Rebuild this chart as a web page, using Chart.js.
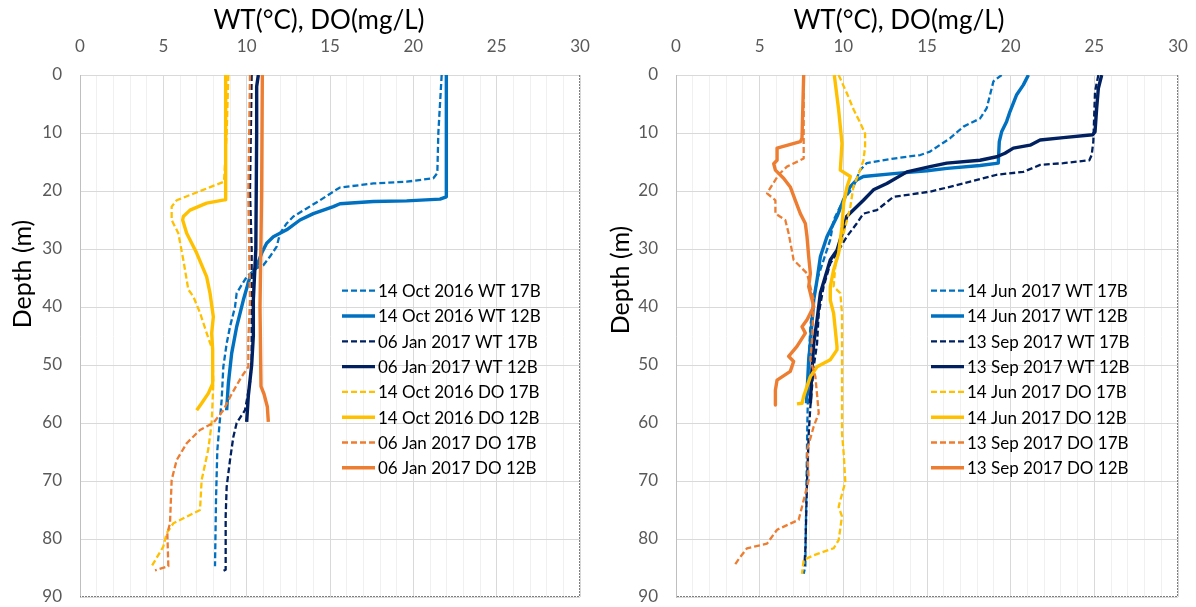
<!DOCTYPE html>
<html>
<head>
<meta charset="utf-8">
<title>WT / DO profiles</title>
<script src="https://cdn.jsdelivr.net/npm/chart.js@4.4.1/dist/chart.umd.min.js"></script>
<style>
  body { margin: 0; background: #fff; }
  .wrap { position: absolute; top: 0; width: 598px; height: 607px; }
</style>
</head>
<body>
<div class="wrap" style="left:0"><canvas id="chartA" width="598" height="607"></canvas></div>
<div class="wrap" style="left:598px"><canvas id="chartB" width="598" height="607"></canvas></div>
<script>
// ---- profile data: depth (m) and value (WT in degC, DO in mg/L) ----

// panel A : 14 Oct 2016 / 06 Jan 2017
var oct16Wt17bD = [0, 5, 10, 16.9, 17.8, 18.4, 18.7, 19.4, 20.1, 21.6, 23.0, 24.4, 25.6, 27.3, 29.6, 31.3, 32.8, 33.3, 34.8, 37.6, 40.0, 43.4, 46.3, 50.3, 56.0, 60.6, 64.7, 73.3, 84.7];
var oct16Wt17bV = [21.7, 21.6, 21.5, 21.44, 21.2, 19.6, 17.6, 15.6, 15.2, 14.4, 13.6, 12.8, 12.4, 12.0, 11.8, 11.4, 11.0, 10.6, 10.0, 9.4, 9.3, 9.0, 8.8, 8.6, 8.5, 8.36, 8.24, 8.16, 8.1];

var oct16Wt12bD = [0, 21.0, 21.4, 21.7, 21.8, 22.2, 22.7, 23.9, 25.0, 26.7, 27.9, 29.0, 30.7, 33.0, 34.8, 38.8, 43.4, 48.0, 53.2, 57.8];
var oct16Wt12bV = [21.98, 21.98, 21.6, 19.6, 17.6, 15.6, 15.2, 14.0, 13.2, 12.4, 11.6, 11.2, 10.9, 10.6, 10.2, 9.8, 9.4, 9.1, 8.9, 8.8];

var jan17Wt17bD = [0, 10, 20, 30, 40, 50, 53.0, 57.8, 60.0, 62.4, 66.4, 71.0, 76.1, 85.3, 85.5];
var jan17Wt17bV = [10.3, 10.25, 10.2, 10.3, 10.3, 10.3, 10.2, 9.9, 9.4, 9.2, 9.0, 8.8, 8.74, 8.74, 8.6];

var jan17Wt12bD = [0, 2, 10, 30, 38.8, 45, 50, 55.3, 59.8];
var jan17Wt12bV = [10.7, 10.6, 10.6, 10.55, 10.4, 10.4, 10.3, 10.1, 10.0];

var oct16Do17bD = [0, 10, 18.4, 21.6, 22.7, 25.0, 27.3, 31.9, 37.0, 38.2, 41.0, 44.5, 47.4, 53.2, 60.0, 64.5, 69.8, 75.0, 77.3, 79.0, 81.3, 84.7];
var oct16Do17bV = [8.9, 8.8, 8.64, 5.8, 5.5, 5.5, 5.9, 6.2, 6.5, 6.8, 7.2, 7.6, 7.95, 8.0, 7.9, 7.7, 7.3, 7.2, 5.6, 5.2, 5.0, 4.3];

var oct16Do12bD = [0, 21.5, 22.1, 23.3, 24.4, 25.0, 27.3, 30.7, 34.8, 37.6, 41.7, 44.5, 47.4, 53.2, 54.9, 56.6, 57.8];
var oct16Do12bV = [8.74, 8.74, 7.6, 6.6, 6.2, 6.16, 6.4, 7.0, 7.6, 7.8, 8.0, 7.9, 7.96, 7.96, 7.7, 7.3, 7.0];

var jan17Do17bD = [0, 20.4, 32, 38.8, 45.7, 50.3, 52.0, 55.0, 57.8, 60.0, 61.2, 63.5, 66.4, 69.8, 77.3, 79.0, 84.7, 85.4];
var jan17Do17bV = [10.2, 10.1, 10.16, 10.2, 10.1, 10.1, 9.7, 9.1, 8.6, 8.0, 7.2, 6.4, 5.8, 5.5, 5.4, 5.24, 5.3, 4.5];

var jan17Do12bD = [0, 20, 40, 53.7, 55.0, 57.2, 59.8];
var jan17Do12bV = [10.94, 10.9, 10.8, 10.86, 11.04, 11.24, 11.3];

// panel B : 14 Jun 2017 / 13 Sep 2017
var jun17Wt17bD = [0, 1.1, 3.4, 5.7, 7.5, 8.9, 10.9, 13.2, 13.8, 14.4, 15.2, 16.4, 19.3, 21.6, 25.0, 28.4, 31.9, 35.3, 38.8, 43.4, 49.0, 60, 70, 80, 84.7, 86.0];
var jun17Wt17bV = [19.46, 18.97, 18.77, 18.57, 18.17, 17.18, 16.38, 15.18, 14.6, 13.0, 11.4, 11.0, 10.6, 10.0, 9.42, 9.22, 8.82, 8.43, 8.23, 8.03, 7.93, 7.85, 7.8, 7.75, 7.73, 7.63];

var jun17Wt12bD = [0, 1.7, 3.4, 6.3, 8.0, 9.8, 11.5, 15.2, 15.6, 16.1, 16.5, 17.0, 17.5, 18.1, 19.3, 21.6, 24.4, 27.9, 31.3, 35.3, 38.8, 46.3, 49.1, 56.6];
var jun17Wt12bV = [21.06, 20.76, 20.36, 19.96, 19.76, 19.46, 19.32, 19.26, 18.17, 16.2, 15.0, 13.0, 11.2, 10.8, 10.4, 10.0, 9.62, 9.02, 8.63, 8.43, 8.23, 8.03, 7.93, 7.8];

var sep17Wt17bD = [0, 2.9, 11.5, 13.8, 14.7, 15.2, 15.5, 16.7, 17.2, 18.7, 20.1, 21.0, 23.3, 23.9, 25.6, 27.9, 30.7, 32.5, 36.5, 41.1, 46.3, 50.3, 57.2, 61.8, 70.2, 81.9, 84.7];
var sep17Wt17bV = [25.24, 25.04, 24.94, 24.84, 24.7, 23.15, 21.76, 20.76, 19.17, 17.18, 15.2, 13.0, 12.0, 11.2, 10.8, 10.2, 9.62, 9.22, 8.82, 8.53, 8.43, 8.23, 8.03, 7.93, 7.83, 7.73, 7.67];

var sep17Wt12bD = [0, 2.3, 5.7, 9.8, 10.3, 10.8, 11.2, 12.1, 12.6, 13.5, 14.1, 14.7, 15.2, 15.8, 16.7, 18.7, 19.8, 21.6, 22.7, 24.4, 26.7, 30.2, 31.9, 34.8, 37.6, 42.2, 46.3, 52, 56.6];
var sep17Wt12bV = [25.44, 25.24, 25.14, 25.04, 24.9, 23.15, 21.76, 21.16, 20.16, 19.66, 19.17, 18.17, 16.18, 15.18, 13.8, 12.6, 11.8, 11.2, 10.8, 10.2, 10.0, 9.62, 9.22, 8.92, 8.63, 8.43, 8.23, 8.1, 8.03];

var jun17Do17bD = [0, 3.2, 6.0, 8.3, 10.1, 12.4, 14.7, 16.4, 19.3, 22.7, 26.1, 29.6, 33.0, 36.5, 37.6, 41.1, 49.1, 61.8, 65.2, 70.2, 73.3, 74.5, 76.1, 80.2, 81.6, 82.8, 83.6, 86.0];
var jun17Do17bV = [9.72, 10.22, 10.62, 11.02, 11.3, 11.3, 11.2, 11.0, 10.6, 10.42, 10.12, 9.82, 9.52, 9.42, 9.82, 9.92, 9.92, 9.92, 10.02, 10.12, 9.82, 9.72, 9.92, 9.72, 9.42, 8.23, 7.63, 7.53];

var jun17Do12bD = [0, 6.0, 11.8, 16.4, 17.5, 19.3, 22.1, 26.1, 30.7, 33.6, 36.5, 38.8, 41.1, 46.8, 47.4, 49.1, 50.3, 52.0, 55.4, 56.6, 56.7];
var jun17Do12bV = [9.46, 9.72, 9.92, 9.82, 10.42, 10.22, 10.02, 9.92, 9.72, 9.42, 9.22, 9.22, 9.42, 9.62, 9.62, 9.22, 8.43, 8.03, 7.63, 7.53, 7.23];

var sep17Do17bD = [0, 14.4, 15.8, 17.2, 20.4, 21.6, 23.9, 25.0, 27.3, 31.9, 34.2, 38.8, 45.7, 49.1, 52.0, 58.3, 60.6, 64.7, 69.8, 73.3, 76.7, 78.4, 80.8, 81.6, 83.1, 84.7];
var sep17Do17bV = [7.63, 7.63, 6.63, 6.13, 5.44, 5.94, 5.94, 6.53, 6.73, 7.03, 7.83, 8.23, 8.13, 8.03, 8.33, 8.53, 8.23, 7.83, 7.93, 7.63, 7.33, 6.04, 5.44, 4.24, 3.84, 3.45];

var sep17Do12bD = [0, 10.9, 11.5, 12.6, 14.7, 15.3, 16.4, 17.8, 19.3, 21.6, 23.9, 25.6, 27.9, 31.3, 34.2, 36.5, 39.9, 42.2, 43.4, 44.5, 46.8, 48.5, 49.4, 51.1, 52.6, 54.3, 56.9];
var sep17Do12bV = [7.63, 7.53, 7.43, 6.04, 6.04, 5.84, 5.94, 6.43, 6.83, 7.13, 7.43, 7.73, 7.83, 7.93, 8.03, 7.93, 8.23, 7.83, 7.53, 7.73, 7.23, 6.73, 7.03, 6.83, 6.04, 5.94, 5.94];

// ---- styles ----
var BLUE = '#0070C0', NAVY = '#002060', YELLOW = '#FFC000', ORANGE = '#ED7D31';
var FONT = 'Lato';

function serie(label, depths, values, color, dashed, i) {
  return {
    label: label,
    data: depths.map(function (d, k) { return { x: values[k], y: d }; }),
    borderColor: color,
    backgroundColor: color,
    borderWidth: dashed ? 2.3 : 3.4,
    borderDash: dashed ? [6, 3] : [],
    borderJoinStyle: 'round',
    pointRadius: 0,
    showLine: true,
    tension: 0,
    order: -i
  };
}

// titles, dotted frame edges and the legend inside the plot area
var decor = {
  id: 'decor',
  afterDraw: function (chart, args, opts) {
    var ctx = chart.ctx, a = chart.chartArea;
    ctx.save();
    ctx.strokeStyle = '#7f7f7f';
    ctx.lineWidth = 1;
    ctx.setLineDash([2, 1]);
    ctx.beginPath();
    ctx.moveTo(a.right - 0.5, a.top);
    ctx.lineTo(a.right - 0.5, a.bottom - 0.5);
    ctx.lineTo(a.left, a.bottom - 0.5);
    ctx.stroke();

    ctx.setLineDash([]);
    ctx.fillStyle = '#000';
    ctx.font = '26px ' + FONT;
    ctx.textAlign = 'center';
    ctx.textBaseline = 'middle';
    ctx.fillText(opts.title, opts.titleX, 21);

    // depth title, rotated
    ctx.save();
    ctx.font = '25px ' + FONT;
    ctx.translate(opts.yTitleX, opts.yTitleY);
    ctx.rotate(-Math.PI / 2);
    ctx.fillText('Depth (m)', 0, 0);
    ctx.restore();

    ctx.font = '17px ' + FONT;
    ctx.textAlign = 'left';
    chart.data.datasets.forEach(function (ds, i) {
      var y = a.top + opts.legendTop + i * 25.3;
      var x = a.left + opts.legendLeft;
      ctx.strokeStyle = ds.borderColor;
      ctx.lineWidth = ds.borderWidth;
      ctx.setLineDash(ds.borderDash);
      ctx.beginPath();
      ctx.moveTo(x, y);
      ctx.lineTo(x + 33, y);
      ctx.stroke();
      ctx.setLineDash([]);
      ctx.fillStyle = '#000';
      ctx.fillText(ds.label, x + 36, y + 1);
    });
    ctx.restore();
  }
};

function makeChart(id, datasets, yWidth, titleX, legendLeft, yTitleY) {
  return new Chart(document.getElementById(id), {
    type: 'scatter',
    data: { datasets: datasets },
    plugins: [decor],
    options: {
      responsive: false,
      animation: false,
      devicePixelRatio: 1,
      layout: { padding: { left: 0, right: 18, top: 0, bottom: 10 } },
      plugins: {
        legend: { display: false },
        tooltip: { enabled: false },
        decor: {
          title: 'WT(\u00B0C), DO(mg/L)', titleX: titleX,
          yTitleX: 23, yTitleY: yTitleY,
          legendTop: 215.7, legendLeft: legendLeft
        }
      },
      scales: {
        x: {
          type: 'linear',
          position: 'top',
          min: 0,
          max: 30,
          afterFit: function (s) { s.height = 75; s.paddingLeft = 0; s.paddingRight = 0; },
          ticks: {
            stepSize: 1,
            autoSkip: false,
            maxRotation: 0,
            padding: 18,
            color: '#595959',
            font: { family: FONT, size: 17 },
            callback: function (v) { return v % 5 === 0 ? v : ''; }
          },
          grid: {
            drawTicks: false,
            color: function (c) { return c.tick && c.tick.value % 5 === 0 ? '#d9d9d9' : '#f0f0f0'; }
          },
          border: { color: '#d9d9d9' }
        },
        y: {
          reverse: true,
          min: 0,
          max: 90,
          afterFit: function (s) { s.width = yWidth; s.paddingTop = 0; s.paddingBottom = 0; },
          ticks: {
            stepSize: 10,
            padding: 18,
            color: '#595959',
            font: { family: FONT, size: 17 }
          },
          grid: { drawTicks: false, color: '#d9d9d9' },
          border: { color: '#bfbfbf' }
        }
      }
    }
  });
}

makeChart('chartA', [
  serie('14 Oct 2016 WT 17B', oct16Wt17bD, oct16Wt17bV, BLUE, true, 0),
  serie('14 Oct 2016 WT 12B', oct16Wt12bD, oct16Wt12bV, BLUE, false, 1),
  serie('06 Jan 2017 WT 17B', jan17Wt17bD, jan17Wt17bV, NAVY, true, 2),
  serie('06 Jan 2017 WT 12B', jan17Wt12bD, jan17Wt12bV, NAVY, false, 3),
  serie('14 Oct 2016 DO 17B', oct16Do17bD, oct16Do17bV, YELLOW, true, 4),
  serie('14 Oct 2016 DO 12B', oct16Do12bD, oct16Do12bV, YELLOW, false, 5),
  serie('06 Jan 2017 DO 17B', jan17Do17bD, jan17Do17bV, ORANGE, true, 6),
  serie('06 Jan 2017 DO 12B', jan17Do12bD, jan17Do12bV, ORANGE, false, 7)
], 80, 319, 262, 274);

makeChart('chartB', [
  serie('14 Jun 2017 WT 17B', jun17Wt17bD, jun17Wt17bV, BLUE, true, 0),
  serie('14 Jun 2017 WT 12B', jun17Wt12bD, jun17Wt12bV, BLUE, false, 1),
  serie('13 Sep 2017 WT 17B', sep17Wt17bD, sep17Wt17bV, NAVY, true, 2),
  serie('13 Sep 2017 WT 12B', sep17Wt12bD, sep17Wt12bV, NAVY, false, 3),
  serie('14 Jun 2017 DO 17B', jun17Do17bD, jun17Do17bV, YELLOW, true, 4),
  serie('14 Jun 2017 DO 12B', jun17Do12bD, jun17Do12bV, YELLOW, false, 5),
  serie('13 Sep 2017 DO 17B', sep17Do17bD, sep17Do17bV, ORANGE, true, 6),
  serie('13 Sep 2017 DO 12B', sep17Do12bD, sep17Do12bV, ORANGE, false, 7)
], 78, 301, 255, 280);
</script>
</body>
</html>
